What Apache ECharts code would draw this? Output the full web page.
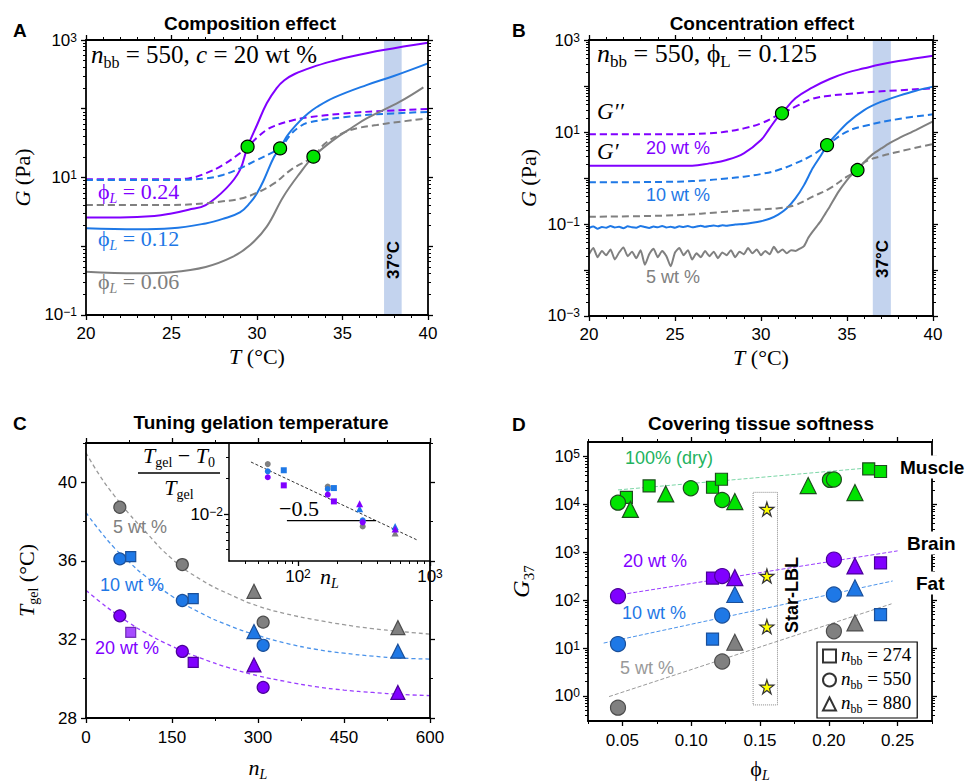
<!DOCTYPE html>
<html>
<head>
<meta charset="utf-8">
<script src="https://cdn.jsdelivr.net/npm/echarts@6/dist/echarts.min.js"></script>
<style>
  html, body { margin: 0; background: #fff; }
  #fig { width: 967px; height: 784px; }
</style>
</head>
<body>
<div id="fig"></div>
<script>
// ---------------- data ----------------
// A  composition effect, nbb = 550, c = 20 wt%   [T (°C), G (Pa)]
const aGp24  = [[20,2.63],[22,2.63],[24,2.75],[25,3.0],[26,3.4],[27,3.98],[28.2,6.95],[29,12.8],[29.45,28.1],[30,58],[30.57,120],[31.15,200],[31.6,260],[32.2,320],[33.2,400],[34.5,500],[35.44,572],[37.39,716],[40,914]];
const aGpp24 = [[20,9.4],[25,9.4],[26,9.7],[27,11.5],[28,15.2],[29,22.5],[29.45,28.1],[30,38],[30.5,48],[31,56],[32,67],[33,75],[35,85],[37,92],[40,99]];
const aGp12  = [[20,1.82],[23,1.76],[25,1.82],[27,2.15],[28,2.5],[29,3.1],[29.6,4.3],[30,5.9],[30.4,9.2],[31,20],[31.35,26.5],[31.7,38],[32,48],[32.5,66],[33,86],[33.5,106],[34.5,145],[36.4,221],[38,300],[40,458]];
const aGpp12 = [[20,9.2],[25,9.2],[27,9.7],[28,10.9],[29,13.6],[30,18],[31,23.8],[31.35,26.5],[32,43],[32.5,55],[33,63],[35,75],[37,83],[40,90]];
const aGp06  = [[20,0.427],[23,0.404],[25,0.42],[27,0.5],[28.6,0.706],[29.6,1.04],[30.57,1.93],[31.54,5.26],[32.5,11.5],[33.3,20.1],[34.46,35],[35.5,52],[36.41,72.4],[38.36,127],[39.73,205]];
const aGpp06 = [[20,3.98],[25,3.98],[27,4.21],[28,4.5],[29,4.9],[30,6.0],[31,8.2],[32,13],[33,18],[33.3,20.1],[34,31.5],[35,44],[36,53],[37,58],[38,63],[40,72.6]];
const aGel   = [[29.45,28.1],[31.35,26.5],[33.3,20.1]];

// B  concentration effect, nbb = 550, phiL = 0.125
const bGp20  = [[20,1.85],[26,1.85],[27,2.08],[28,2.46],[29,3.44],[30,6.7],[30.5,12],[31,21.5],[31.22,25.5],[32,54],[33,93.5],[34,142],[35,195],[36,242],[37,296],[38,349],[40,456]];
const bGpp20 = [[20,8.9],[25,8.9],[27,9.35],[28,10.2],[29,12],[30,15.4],[31,23.4],[31.22,25.5],[32,35.5],[33,53],[34,61.6],[35,67],[37,76.5],[40,89]];
const bGp10  = [[20,0.082],[20.25,0.088],[20.5,0.079],[20.75,0.086],[21,0.083],[21.25,0.09],[21.5,0.084],[21.75,0.087],[22,0.081],[22.25,0.089],[22.5,0.085],[22.75,0.083],[23,0.09],[23.25,0.086],[23.5,0.082],[23.75,0.088],[24,0.085],[24.25,0.091],[24.5,0.084],[24.75,0.087],[25,0.083],[25.25,0.089],[25.5,0.086],[25.75,0.09],[26,0.085],[26.25,0.088],[26.5,0.092],[26.75,0.087],[27,0.09],[27.25,0.093],[27.5,0.089],[27.75,0.094],[28,0.092],[28.5,0.097],[29,0.1],[29.5,0.106],[30,0.115],[30.5,0.13],[31,0.16],[31.5,0.22],[32,0.36],[32.5,0.7],[33,1.62],[33.5,3.16],[33.84,5.2],[34,6.2],[35,15.5],[36,30],[37,45.6],[38,61],[39,79],[40,97]];
const bGpp10 = [[20,0.805],[25,0.83],[27,0.906],[28,0.98],[29,1.07],[30,1.22],[31,1.49],[32,2.08],[33,3.16],[33.84,5.2],[35,10.2],[36,13.5],[38,19.2],[40,24.2]];
const bGp05  = [[20,0.022],[20.25,0.03],[20.5,0.019],[20.75,0.026],[21,0.021],[21.25,0.028],[21.5,0.017],[21.75,0.024],[22,0.031],[22.25,0.02],[22.5,0.025],[22.75,0.018],[23,0.027],[23.25,0.013],[23.5,0.022],[23.75,0.029],[24,0.019],[24.25,0.026],[24.5,0.02],[24.75,0.012],[25,0.024],[25.25,0.03],[25.5,0.021],[25.75,0.027],[26,0.017],[26.25,0.023],[26.5,0.019],[26.75,0.026],[27,0.02],[27.25,0.025],[27.5,0.018],[27.75,0.024],[28,0.021],[28.25,0.027],[28.5,0.019],[28.75,0.025],[29,0.022],[29.25,0.03],[29.5,0.023],[29.75,0.028],[30,0.021],[30.25,0.026],[30.5,0.022],[30.75,0.032],[31,0.024],[31.25,0.028],[31.5,0.023],[31.75,0.027],[32,0.026],[32.25,0.029],[32.5,0.033],[32.75,0.05],[33,0.068],[33.25,0.09],[33.5,0.12],[33.75,0.17],[34,0.24],[34.5,0.5],[35,0.9],[35.3,1.2],[35.61,1.49],[36,2.2],[36.5,3.3],[37,4.4],[37.5,5.8],[38,7.3],[39,11],[40,17]];
const bGpp05 = [[20,0.144],[25,0.155],[28,0.185],[30,0.208],[31,0.22],[32,0.259],[33,0.393],[34,0.596],[35,1.07],[35.61,1.49],[36,2.2],[37,3.0],[38,3.73],[40,5.5]];
const bGel   = [[31.22,25.5],[33.84,5.2],[35.61,1.49]];

// C  gelation temperature vs nL   [nL, Tgel]
const cCirc05 = [[59,38.73],[168,35.81],[309,32.88]];
const cTri05  = [[293,34.45],[544,32.6]];
const cCirc10 = [[59,36.1],[168,33.98],[309,31.7]];
const cSq10   = [[78,36.22],[187,34.08]];
const cTri10  = [[293,32.4],[544,31.4]];
const cCirc20 = [[59,33.2],[168,31.39],[309,29.56]];
const cSq20   = [[78,32.36],[187,30.83]];
const cTri20  = [[293,30.7],[544,29.3]];
const cFitN   = [0,25,50,75,100,150,200,250,300,350,400,450,500,550,600];
const cFit05  = [41.5,40.3,39.3,38.4,37.6,36.1,35.05,34.3,33.7,33.3,33.0,32.75,32.55,32.4,32.27];
const cFit10  = [38.45,37.5,36.65,35.95,35.3,34.2,33.35,32.7,32.2,31.8,31.5,31.3,31.15,31.05,31.0];
const cFit20  = [34.5,33.9,33.35,32.85,32.4,31.65,31.05,30.55,30.15,29.85,29.6,29.42,29.3,29.2,29.14];

// C inset  (Tgel - T0)/Tgel vs nL
const iCirc05 = [[59,0.0265],[168,0.0171],[309,0.00786]];
const iTri05  = [[544,0.0069]];
const iCirc10 = [[59,0.023],[168,0.0163],[309,0.00884]];
const iSq10   = [[78,0.0235],[187,0.0166]];
const iTri10  = [[293,0.0111],[544,0.00786]];
const iCirc20 = [[59,0.0205],[168,0.0146],[309,0.0085]];
const iSq20   = [[78,0.0175],[187,0.0128]];
const iTri20  = [[293,0.01225],[544,0.00746]];
const iFit    = [[44,0.0276],[791,0.00606]];
const iSlope  = [[82.4,0.00878],[391,0.00878]];

// D  G37 vs phiL
const dSqDry   = [[0.0529,14000],[0.0694,24250],[0.1155,22700],[0.122,33400],[0.229,55000],[0.2376,48400]];
const dCircDry = [[0.0468,10840],[0.0997,21660],[0.1225,12300],[0.2008,32400],[0.2037,33000]];
const dTriDry  = [[0.0558,7850],[0.0815,16470],[0.1317,11400],[0.185,24600],[0.219,17600]];
const dSq20    = [[0.1155,289],[0.2376,597]];
const dCirc20  = [[0.0468,121],[0.1225,318],[0.2037,702]];
const dTri20   = [[0.1317,295],[0.219,517]];
const dSq10    = [[0.1155,15.4],[0.2376,50]];
const dCirc10  = [[0.0468,12.1],[0.1225,47.7],[0.2037,131]];
const dTri10   = [[0.1317,131],[0.219,181]];
const dCirc05  = [[0.0468,0.57],[0.1225,5.25],[0.2037,22.4]];
const dTri05   = [[0.1317,13.2],[0.219,33.4]];
const dStars   = [[0.155,7960],[0.155,319],[0.155,28],[0.155,1.55]];
const dFitDry  = [[0.0468,20000],[0.2408,61700]];
const dFit20   = [[0.0493,131],[0.25,1067]];
const dFit10   = [[0.0364,12.7],[0.2464,251]];
const dFit05   = [[0.0403,0.97],[0.2456,83.8]];

// tick labels
const tempTicks = [20,25,30,35,40];
const nLTicks   = [0,150,300,450,600];
const tgelTicks = [28,32,36,40];
const phiTicks  = [0.05,0.10,0.15,0.20,0.25];

// ---------------- styling helpers ----------------
const SANS = '"Liberation Sans", Arial, sans-serif';
const SERIF = '"Liberation Serif", "DejaVu Serif", serif';
const PURPLE = '#8000ff', BLUE = '#1e78e6', GRAY = '#808080', GREEN = '#00e400';

function mathRich(size) {
  const sub = Math.round(size * 0.64);
  return {
    i: {fontFamily: SERIF, fontStyle: 'italic', fontSize: size, padding: [0, 0, 3, 0]},
    r: {fontFamily: SERIF, fontSize: size, padding: [0, 0, 3, 0]},
    s: {fontFamily: SERIF, fontSize: sub, verticalAlign: 'bottom'},
    si: {fontFamily: SERIF, fontStyle: 'italic', fontSize: sub, verticalAlign: 'bottom'}
  };
}
const SUP = {
  b: {fontFamily: SANS, fontSize: 17, color: '#000'},
  e: {fontFamily: SANS, fontSize: 12, color: '#000', verticalAlign: 'top'}
};
const logFmt = v => '{b|10}{e|' + String(Math.round(Math.log10(v))).replace('-', '\u2212') + '}';

function inside(vals, lo, hi) {
  return vals.map(v => Math.min(Math.max(v, lo * 1.0005), hi * 0.9995));
}
function decades(lo, hi) {
  const out = [];
  for (let e = -5; e <= 6; e++) {
    const v = Math.pow(10, e);
    if (v >= lo * 0.999 && v <= hi * 1.001) out.push(v);
  }
  return inside(out, lo, hi);
}
function logMinor(lo, hi) {
  const out = [];
  for (let e = -5; e <= 6; e++) {
    for (let k = 2; k <= 9; k++) {
      const v = +(k * Math.pow(10, e)).toPrecision(6);
      if (v > lo * 1.001 && v < hi * 0.999) out.push(v);
    }
  }
  return out;
}
function steps(lo, hi, d) {
  const out = [];
  for (let v = lo; v <= hi + 1e-9; v += d) out.push(+v.toFixed(4));
  return out;
}

const xAxes = [], yAxes = [];
function side(list, gi, pos, cfg, labeled) {
  const base = {
    gridIndex: gi, position: pos, type: cfg.type, min: cfg.min, max: cfg.max,
    splitLine: {show: false}, silent: true, z: 5
  };
  if (cfg.type === 'log') base.logBase = 10;
  const major = Object.assign({}, base, {
    axisLine: {show: true, onZero: false, lineStyle: {color: '#000', width: cfg.lw || 1.8}},
    axisTick: {show: true, inside: false, length: 5, customValues: cfg.major, lineStyle: {color: '#000', width: 1.3}},
    axisLabel: labeled ? {
      show: true, customValues: cfg.labels, formatter: cfg.fmt, margin: cfg.margin,
      color: '#000', fontFamily: SANS, fontSize: 17, rich: SUP
    } : {show: false}
  });
  if (labeled && cfg.name) {
    major.name = cfg.name;
    major.nameLocation = 'middle';
    major.nameGap = cfg.nameGap;
    major.nameMoveOverlap = false;
    major.nameTextStyle = {color: '#000', rich: mathRich(cfg.nameSize || 22)};
  }
  const idx = list.length;
  list.push(major);
  if (cfg.minor && cfg.minor.length) {
    list.push(Object.assign({}, base, {
      axisLine: {show: false, onZero: false},
      axisTick: {show: true, inside: false, length: 3, customValues: cfg.minor, lineStyle: {color: '#000', width: 1}},
      axisLabel: {show: false}
    }));
  }
  return idx;
}
function addGrid(gi, xs, ys, full) {
  const xi = side(xAxes, gi, 'bottom', xs, true);
  const yi = side(yAxes, gi, 'left', ys, true);
  if (full) {
    side(xAxes, gi, 'top', xs, false);
    side(yAxes, gi, 'right', ys, false);
  }
  return [xi, yi];
}

const series = [];
function line(xi, yi, data, color, dash, extra) {
  series.push(Object.assign({
    type: 'line', xAxisIndex: xi, yAxisIndex: yi, data: data,
    symbol: 'none', smooth: 0.4, silent: true, z: 3,
    lineStyle: {color: color, width: 2, type: dash ? [7, 4] : 'solid'}
  }, extra || {}));
}
function dots(xi, yi, data, symbol, size, color, border, extra) {
  series.push(Object.assign({
    type: 'scatter', xAxisIndex: xi, yAxisIndex: yi, data: data,
    symbol: symbol, symbolSize: size, silent: true, z: 6,
    itemStyle: {color: color, borderColor: border || color, borderWidth: border ? 1.2 : 0, opacity: 1}
  }, extra || {}));
}
function band(a, b) {
  return {silent: true, itemStyle: {color: '#c3d3ee'}, data: [[{xAxis: a}, {xAxis: b}]]};
}

// ---------------- grids & axes ----------------
const grids = [
  {left: 86, top: 40, width: 342, height: 275},
  {left: 589, top: 40, width: 344, height: 276},
  {left: 86, top: 443, width: 344, height: 275},
  {left: 229, top: 443, width: 201, height: 118, show: true, backgroundColor: '#fff', borderWidth: 0},
  {left: 588, top: 442, width: 344, height: 279}
];

const tempAxis = {
  type: 'value', min: 20, max: 40, major: tempTicks, minor: steps(20, 40, 1).filter(v => v % 5),
  labels: tempTicks, fmt: v => String(v), margin: 10, name: '{i|T}{r| (°C)}', nameGap: 30
};
const [aX, aY] = addGrid(0, tempAxis, {
  type: 'log', min: 0.1, max: 1000, major: decades(0.1, 1000), minor: logMinor(0.1, 1000),
  labels: inside([0.1, 10, 1000], 0.1, 1000), fmt: logFmt, margin: 9,
  name: '{i|G}{r| (Pa)}', nameGap: 50
}, true);
const [bX, bY] = addGrid(1, tempAxis, {
  type: 'log', min: 0.001, max: 1000, major: decades(0.001, 1000), minor: logMinor(0.001, 1000),
  labels: inside([0.001, 0.1, 10, 1000], 0.001, 1000), fmt: logFmt, margin: 9,
  name: '{i|G}{r| (Pa)}', nameGap: 47
}, true);
const [cX, cY] = addGrid(2, {
  type: 'value', min: 0, max: 600, major: nLTicks, minor: [75, 225, 375, 525],
  labels: nLTicks, fmt: v => String(v), margin: 11, name: '{i|n}{si|L}', nameGap: 38
}, {
  type: 'value', min: 28, max: 42, major: tgelTicks, minor: [30, 34, 38, 42],
  labels: tgelTicks, fmt: v => String(v), margin: 9, name: '{i|T}{s|gel}{r| (°C)}', nameGap: 46
}, true);
const [iX, iY] = addGrid(3, {
  type: 'log', min: 30, max: 1000, major: decades(30, 1000), minor: logMinor(30, 1000), lw: 1.5,
  labels: inside([100, 1000], 30, 1000), fmt: logFmt, margin: 7, name: '{i|n}{si|L}', nameGap: 4
}, {
  type: 'log', min: 0.004, max: 0.04, major: decades(0.004, 0.04), minor: logMinor(0.004, 0.04), lw: 1.5,
  labels: [0.01], fmt: logFmt, margin: 6
}, false);
const [dX, dY] = addGrid(4, {
  type: 'value', min: 0.025, max: 0.275, major: phiTicks, minor: steps(0.025, 0.275, 0.05),
  labels: phiTicks, fmt: v => v.toFixed(2), margin: 11, name: '{r|ϕ}{si|L}', nameGap: 36
}, {
  type: 'log', min: 0.3, max: 200000, major: decades(0.3, 200000), minor: logMinor(0.3, 200000),
  labels: decades(1, 100000), fmt: logFmt, margin: 8, name: '{i|G}{s|37}', nameGap: 52, nameSize: 24
}, true);

// ---------------- series ----------------
// A
line(aX, aY, aGp24, PURPLE, false, {markArea: band(37.43, 38.46)});
line(aX, aY, aGpp24, PURPLE, true);
line(aX, aY, aGp12, BLUE, false);
line(aX, aY, aGpp12, BLUE, true);
line(aX, aY, aGp06, GRAY, false);
line(aX, aY, aGpp06, GRAY, true);
dots(aX, aY, aGel, 'circle', 13, GREEN, '#000');
// B
line(bX, bY, bGp20, PURPLE, false, {markArea: band(36.5, 37.55)});
line(bX, bY, bGpp20, PURPLE, true);
line(bX, bY, bGp10, BLUE, false, {smooth: 0.2});
line(bX, bY, bGpp10, BLUE, true);
line(bX, bY, bGp05, GRAY, false, {smooth: 0.2});
line(bX, bY, bGpp05, GRAY, true);
dots(bX, bY, bGel, 'circle', 13, GREEN, '#000');
// C
const pairs = (xs, ys) => xs.map((x, k) => [x, ys[k]]);
const fitStyle = c => ({lineStyle: {color: c, width: 1.3, type: [4, 3]}, smooth: 0.5});
line(cX, cY, pairs(cFitN, cFit05), '#999', true, fitStyle('#9a9a9a'));
line(cX, cY, pairs(cFitN, cFit10), BLUE, true, fitStyle('#4b93ea'));
line(cX, cY, pairs(cFitN, cFit20), PURPLE, true, fitStyle('#9a3dff'));
dots(cX, cY, cCirc05, 'circle', 12, GRAY, '#4d4d4d');
dots(cX, cY, cTri05, 'triangle', 14, GRAY, '#4d4d4d');
dots(cX, cY, cCirc10, 'circle', 12, BLUE, '#1a4f99');
dots(cX, cY, cSq10, 'rect', 10, BLUE, '#1a4f99');
dots(cX, cY, cTri10, 'triangle', 14, BLUE, '#1a4f99');
dots(cX, cY, cCirc20, 'circle', 12, PURPLE, '#4b0099');
dots(cX, cY, cSq20.map((p, k) => k === 0 ? {value: p, itemStyle: {opacity: 0.7}} : p), 'rect', 10, PURPLE, '#4b0099');
dots(cX, cY, cTri20, 'triangle', 14, PURPLE, '#4b0099');
// C inset
line(iX, iY, iFit, '#333', true, {smooth: false, lineStyle: {color: '#333', width: 1, type: [3, 2]}});
line(iX, iY, iSlope, '#000', false, {smooth: false, lineStyle: {color: '#000', width: 1.3}});
dots(iX, iY, iCirc05, 'circle', 6, GRAY);
dots(iX, iY, iTri05, 'triangle', 7, GRAY);
dots(iX, iY, iCirc10, 'circle', 6, BLUE);
dots(iX, iY, iSq10, 'rect', 6, BLUE);
dots(iX, iY, iTri10, 'triangle', 7, BLUE);
dots(iX, iY, iCirc20, 'circle', 6, PURPLE);
dots(iX, iY, iSq20, 'rect', 6, PURPLE);
dots(iX, iY, iTri20, 'triangle', 7, PURPLE);
// D
const dFit = c => ({smooth: false, lineStyle: {color: c, width: 1, type: [4, 2]}});
line(dX, dY, dFitDry, '#7bd6a6', true, dFit('#7bd6a6'));
line(dX, dY, dFit20, PURPLE, true, dFit('#9a3dff'));
line(dX, dY, dFit10, BLUE, true, dFit('#4b93ea'));
line(dX, dY, dFit05, GRAY, true, dFit('#9a9a9a'));
dots(dX, dY, dSqDry, 'rect', 12, GREEN, '#1d4d1d');
dots(dX, dY, dCircDry, 'circle', 15, GREEN, '#1d4d1d');
dots(dX, dY, dTriDry, 'triangle', 16, GREEN, '#1d4d1d');
dots(dX, dY, dSq20, 'rect', 12, PURPLE, '#4b0099');
dots(dX, dY, dCirc20, 'circle', 15, PURPLE, '#4b0099');
dots(dX, dY, dTri20, 'triangle', 16, PURPLE, '#4b0099');
dots(dX, dY, dSq10, 'rect', 12, BLUE, '#1a4f99');
dots(dX, dY, dCirc10, 'circle', 15, BLUE, '#1a4f99');
dots(dX, dY, dTri10, 'triangle', 16, BLUE, '#1a4f99');
dots(dX, dY, dCirc05, 'circle', 15, GRAY, '#4d4d4d');
dots(dX, dY, dTri05, 'triangle', 16, GRAY, '#4d4d4d');
dots(dX, dY, dStars, 'path://M50,0 L61,35 L98,35 L68,57 L79,91 L50,70 L21,91 L32,57 L2,35 L39,35 Z', 14, '#ffff00', '#333', {
  markArea: {silent: true, itemStyle: {color: 'rgba(0,0,0,0)', borderColor: '#888', borderWidth: 1, borderType: 'dotted'},
    data: [[{xAxis: 0.145, yAxis: 0.65}, {xAxis: 0.1627, yAxis: 17800}]]}
});
// legend entries (shape key)
[['n274', 'rect'], ['n550', 'circle'], ['n880', 'triangle']].forEach(([name, sym]) => {
  series.push({type: 'scatter', name: name, symbol: sym, xAxisIndex: dX, yAxisIndex: dY, data: [],
    itemStyle: {color: '#fff', borderColor: '#000', borderWidth: 1.5}});
});

// ---------------- text ----------------
function label(x, y, text, o) {
  o = o || {};
  return {
    type: 'text', x: x, y: y, rotation: o.rot || 0, z: 100, silent: true,
    style: {
      text: text, fill: o.color || '#000', align: o.align || 'left', verticalAlign: 'middle',
      fontFamily: o.family || SANS, fontSize: o.size || 18, fontWeight: o.weight || 'normal',
      rich: o.rich, backgroundColor: o.bg, padding: o.pad
    }
  };
}
const bold = (x, y, t, o) => label(x, y, t, Object.assign({weight: 'bold', size: 19}, o || {}));
const math = (x, y, t, size, color, align) => label(x, y, t, {rich: mathRich(size), family: SERIF, size: size, color: color, align: align});
const texts = [
  bold(13, 30, 'A'), bold(512, 30, 'B'), bold(13, 423, 'C'), bold(512, 424, 'D'),
  bold(250, 23, 'Composition effect', {align: 'center'}),
  bold(762, 23, 'Concentration effect', {align: 'center'}),
  bold(261, 422, 'Tuning gelation temperature', {align: 'center'}),
  bold(761, 423, 'Covering tissue softness', {align: 'center'}),
  // A
  math(91, 56, '{i|n}{s|bb}{r| = 550, }{i|c}{r| = 20 wt %}', 25),
  math(98, 193, '{r|ϕ}{si|L}{r| = 0.24}', 22, PURPLE),
  math(98, 240, '{r|ϕ}{si|L}{r| = 0.12}', 22, BLUE),
  math(98, 283, '{r|ϕ}{si|L}{r| = 0.06}', 22, GRAY),
  bold(393, 260, '37°C', {align: 'center', size: 17, rot: Math.PI / 2}),
  // B
  math(597, 55, '{i|n}{s|bb}{r| = 550, ϕ}{s|L}{r| = 0.125}', 26),
  math(597, 113, '{i|G′′}', 23),
  math(597, 153, '{i|G′}', 23),
  label(646, 148, '20 wt %', {color: PURPLE}),
  label(646, 195, '10 wt %', {color: BLUE}),
  label(646, 277, '5 wt %', {color: GRAY}),
  bold(882, 259, '37°C', {align: 'center', size: 17, rot: Math.PI / 2}),
  // C
  label(113, 527, '5 wt %', {color: GRAY}),
  label(100, 585, '10 wt %', {color: BLUE}),
  label(95, 648, '20 wt %', {color: PURPLE}),
  math(179, 457, '{i|T}{s|gel}{r| − }{i|T}{s|0}', 22, '#000', 'center'),
  {type: 'line', z: 100, silent: true, shape: {x1: 138, y1: 473, x2: 220, y2: 473}, style: {stroke: '#000', lineWidth: 1.3}},
  math(179, 489, '{i|T}{s|gel}', 22, '#000', 'center'),
  math(299, 510, '{r|−0.5}', 22, '#000', 'center'),
  // D
  label(625, 458, '100% (dry)', {color: '#22b35e'}),
  label(623, 561, '20 wt %', {color: PURPLE}),
  label(622, 613, '10 wt %', {color: BLUE}),
  label(620, 668, '5 wt %', {color: '#999'}),
  bold(899, 467, 'Muscle', {bg: '#fff', pad: [2, 1]}),
  bold(906, 543, 'Brain', {bg: '#fff', pad: [2, 1]}),
  bold(915, 583, 'Fat', {bg: '#fff', pad: [2, 1]}),
  bold(792, 595, 'Star-LBL', {align: 'center', size: 18, rot: Math.PI / 2})
];

const chart = echarts.init(document.getElementById('fig'), null, {renderer: 'svg'});
chart.setOption({
  animation: false,
  backgroundColor: '#fff',
  grid: grids,
  xAxis: xAxes,
  yAxis: yAxes,
  legend: {
    data: ['n274', 'n550', 'n880'], left: 817, top: 642, orient: 'vertical',
    itemWidth: 13, itemHeight: 13, itemGap: 2, padding: [3, 6, 3, 5],
    borderColor: '#000', borderWidth: 1.2, backgroundColor: '#fff', selectedMode: false, z: 50,
    formatter: n => '{i|n}{s|bb}{r| = ' + n.slice(1) + '}',
    textStyle: {color: '#000', rich: mathRich(19)}
  },
  series: series,
  graphic: {elements: texts}
});
</script>
</body>
</html>
